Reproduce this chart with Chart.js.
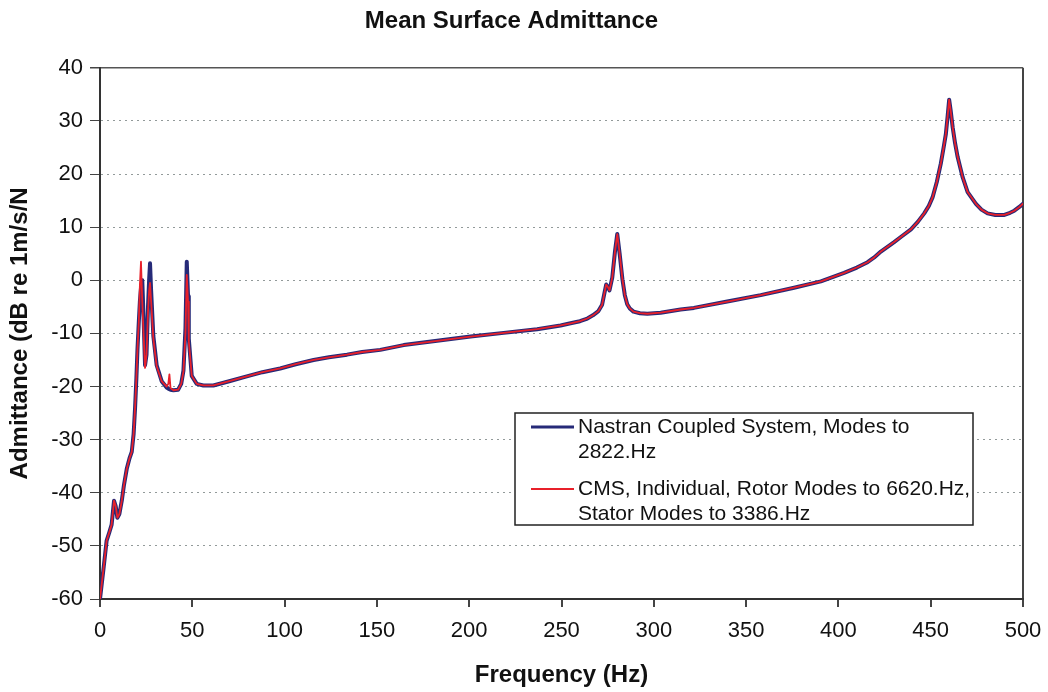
<!DOCTYPE html>
<html>
<head>
<meta charset="utf-8">
<script src="https://cdn.jsdelivr.net/npm/chart.js@4.4.1/dist/chart.umd.min.js"></script>
<style>
  html, body { margin: 0; padding: 0; background: #fff; }
</style>
</head>
<body>
<canvas id="admittanceChart" width="1048" height="692"></canvas>
<script>
// frequency points (Hz)
const freq = [
    0, 2, 3.6, 5, 6.3, 7.6, 8.5, 9.4, 10.5, 11.8,
    13, 14.5, 16, 17.2, 18.2, 19, 19.7, 20.3, 21, 21.6,
    22.2, 22.9, 23.6, 24.4, 25.2, 26, 26.6, 27.1, 27.7, 28.9,
    30.7, 33.4, 36.1, 37, 37.6, 38.2, 39.8, 42.3, 44, 45.2,
    46.3, 47, 47.7, 48.1, 49.7, 52.4, 56, 61.4, 70, 79.5,
    88, 97.6, 106, 115.7, 124, 133.8, 142, 151.8, 164.5, 182.6,
    200.7, 218.7, 236.8, 249.5, 254.9, 260, 264, 267, 270, 272,
    273.2, 274.2, 275.2, 276, 277.5, 279, 280.2, 281.5, 283, 284.3,
    285.6, 287, 289, 292.5, 296.5, 303.7, 314.5, 321.7, 339.8, 357.9,
    376, 390.5, 403.1, 410, 415.8, 419.4, 423, 430.2, 434, 439.3,
    443, 446.5, 449, 451, 453.3, 455.5, 457, 458.2, 459.2, 460,
    460.8, 461.9, 463.2, 464.6, 467.3, 470, 474.5, 477.5, 480.8, 485,
    489.9, 493, 495.3, 498, 500
];

// Nastran coupled system (dB re 1m/s/N)
const nastran = [
    -60, -54, -49, -47.5, -46, -41.5, -42.5, -44.7, -44, -41.5,
    -38.5, -35.5, -33.5, -32.3, -29, -24, -18.5, -13, -8, -4,
    -1.5, 0, -7, -16, -14, -5, 0, 3.2, -2, -10.5,
    -16, -19, -20.2, -20.4, -20.5, -20.6, -20.7, -20.6, -19.5, -17,
    -9, 3.5, -3, -11, -18, -19.5, -19.8, -19.8, -19, -18.1,
    -17.3, -16.6, -15.8, -15, -14.5, -14, -13.5, -13.1, -12.2, -11.4,
    -10.6, -9.9, -9.2, -8.5, -8.1, -7.7, -7.2, -6.6, -5.8, -4.6,
    -2.5, -0.8, -1.3, -1.9, 0.5, 5.5, 8.7, 5, 0.2, -2.8,
    -4.5, -5.3, -5.9, -6.2, -6.3, -6.1, -5.5, -5.2, -4, -2.8,
    -1.4, -0.2, 1.4, 2.4, 3.4, 4.3, 5.4, 7.2, 8.2, 9.6,
    11, 12.6, 14, 15.6, 18.5, 22, 25, 27.5, 31, 34,
    32, 28.8, 25.8, 23.2, 19.4, 16.6, 14.4, 13.3, 12.6, 12.3,
    12.3, 12.7, 13.1, 13.8, 14.4
];

// CMS individual rotor/stator modes
const cms = [
    -60, -54, -49, -47.5, -46, -41.5, -42.5, -44.7, -44, -41.5,
    -38.5, -35.5, -33.5, -32.3, -29, -24, -18.5, -13, -8, -1,
    3.5, -4, -10, -16.5, -14, -6, -2, -0.5, -4, -11,
    -16.2, -19, -20, -19.5, -17.7, -20.3, -20.7, -20.6, -19.5, -17.2,
    -10, 1, -4, -11.5, -18, -19.5, -19.8, -19.8, -19, -18.1,
    -17.3, -16.6, -15.8, -15, -14.5, -14, -13.5, -13.1, -12.2, -11.4,
    -10.6, -9.9, -9.2, -8.5, -8.1, -7.7, -7.2, -6.6, -5.8, -4.6,
    -2.5, -0.8, -1.3, -1.9, 0.5, 5.5, 8.7, 5, 0.2, -2.8,
    -4.5, -5.3, -5.9, -6.2, -6.3, -6.1, -5.5, -5.2, -4, -2.8,
    -1.4, -0.2, 1.4, 2.4, 3.4, 4.3, 5.4, 7.2, 8.2, 9.6,
    11, 12.6, 14, 15.6, 18.5, 22, 25, 27.5, 31, 34,
    32, 28.8, 25.8, 23.2, 19.4, 16.6, 14.4, 13.3, 12.6, 12.3,
    12.3, 12.7, 13.1, 13.8, 14.4
];

const seriesNames = [
    'Nastran Coupled System, Modes to 2822.Hz',
    'CMS, Individual, Rotor Modes to 6620.Hz, Stator Modes to 3386.Hz'
];
const legendLines = [
    ['Nastran Coupled System, Modes to', '2822.Hz'],
    ['CMS, Individual, Rotor Modes to 6620.Hz,', 'Stator Modes to 3386.Hz']
];

const FONT = "'Liberation Sans', Arial, sans-serif";

// legend box drawn inside the plot, like the original
const legendBox = {
    id: 'legendBox',
    afterDraw(chart) {
        const ctx = chart.ctx;
        const x0 = 515, y0 = 413, w = 458, h = 112;
        ctx.save();
        ctx.fillStyle = '#fff';
        ctx.fillRect(x0, y0, w, h);
        ctx.strokeStyle = '#222';
        ctx.lineWidth = 1.5;
        ctx.strokeRect(x0, y0, w, h);
        ctx.font = '21px ' + FONT;
        ctx.textBaseline = 'middle';
        chart.data.datasets.forEach((ds, i) => {
            const y = y0 + 14 + i * 62;
            ctx.strokeStyle = ds.borderColor;
            ctx.lineWidth = i === 0 ? 3 : 2;
            ctx.beginPath();
            ctx.moveTo(x0 + 16, y);
            ctx.lineTo(x0 + 59, y);
            ctx.stroke();
            ctx.fillStyle = '#111';
            legendLines[i].forEach((t, j) => ctx.fillText(t, x0 + 63, y + j * 25));
        });
        ctx.restore();
    }
};

new Chart(document.getElementById('admittanceChart'), {
    type: 'line',
    data: {
        datasets: [{
            label: seriesNames[0],
            data: freq.map((f, i) => ({ x: f, y: nastran[i] })),
            borderColor: '#262a78',
            borderWidth: 4,
            borderJoinStyle: 'round',
            borderCapStyle: 'round',
            pointRadius: 0,
            tension: 0,
            order: 2
        }, {
            label: seriesNames[1],
            data: freq.map((f, i) => ({ x: f, y: cms[i] })),
            borderColor: '#e8202a',
            borderWidth: 1.8,
            borderJoinStyle: 'round',
            borderCapStyle: 'round',
            pointRadius: 0,
            tension: 0,
            order: 1
        }]
    },
    options: {
        responsive: false,
        animation: false,
        layout: { padding: { right: 25 } },
        plugins: {
            legend: { display: false },
            tooltip: { enabled: false },
            title: {
                display: true,
                text: 'Mean Surface Admittance',
                color: '#111',
                font: { family: FONT, size: 24, weight: 'bold' },
                padding: { top: 7, bottom: 32 }
            }
        },
        scales: {
            x: {
                type: 'linear',
                min: 0,
                max: 500,
                ticks: {
                    stepSize: 50,
                    color: '#111',
                    padding: 11,
                    maxRotation: 0,
                    font: { family: FONT, size: 22 }
                },
                grid: {
                    color: c => c.tick && c.tick.value === 500 ? '#444' : 'rgba(0,0,0,0)',
                    tickColor: '#444',
                    tickLength: 8,
                    lineWidth: 2
                },
                border: { color: '#333', width: 2 },
                title: {
                    display: true,
                    text: 'Frequency (Hz)',
                    color: '#111',
                    font: { family: FONT, size: 24, weight: 'bold' },
                    padding: { top: 0, bottom: 2 }
                },
                afterFit: s => { s.height = 93; s.paddingRight = 0; }
            },
            y: {
                min: -60,
                max: 40,
                ticks: {
                    stepSize: 10,
                    color: '#111',
                    padding: 7,
                    font: { family: FONT, size: 22 }
                },
                grid: {
                    color: c => c.tick && c.tick.value === 40 ? '#555' : 'rgba(110,120,120,0.75)',
                    tickColor: '#444',
                    tickLength: 10,
                    lineWidth: c => c.tick && c.tick.value === 40 ? 1.5 : 1
                },
                border: {
                    color: '#333',
                    width: 2,
                    dash: c => c.tick && c.tick.value !== 40 ? [2, 4] : []
                },
                title: {
                    display: true,
                    text: 'Admittance (dB re 1m/s/N',
                    color: '#111',
                    font: { family: FONT, size: 24, weight: 'bold' },
                    padding: { top: 6, bottom: 0 }
                },
                afterFit: s => { s.width = 100; }
            }
        }
    },
    plugins: [legendBox]
});
</script>
</body>
</html>
